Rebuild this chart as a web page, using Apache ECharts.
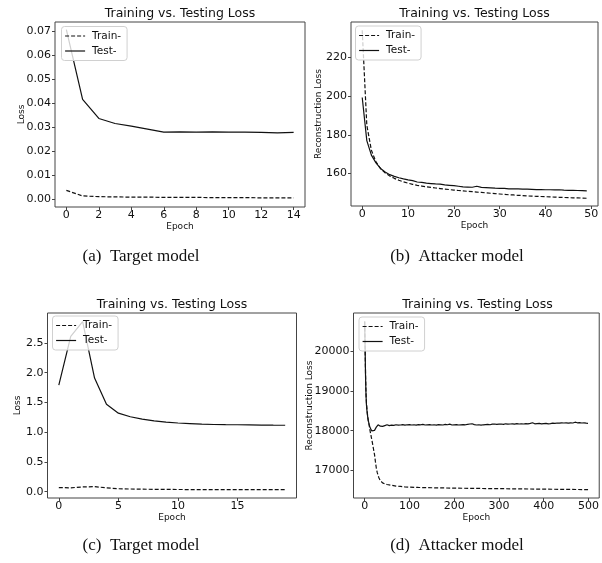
<!DOCTYPE html>
<html>
<head>
<meta charset="utf-8">
<script src="https://cdn.jsdelivr.net/npm/echarts@6/dist/echarts.min.js"></script>
<style>html,body{margin:0;padding:0;background:#fff}#c{width:602px;height:563px}</style>
</head>
<body>
<div id="c"></div>
<script>
// ---------- data ----------
const titleText = 'Training vs. Testing Loss';
const legendNames = ['Train-', 'Test-'];
const captions = ['(a)  Target model', '(b)  Attacker model', '(c)  Target model', '(d)  Attacker model'];

// (a) target model, 15 epochs
const aTrain = [0.0037,0.0014,0.0011,0.0010,0.0009,0.0009,0.0008,0.0008,0.0008,0.0007,0.0007,0.0007,0.0006,0.0006,0.0006];
const aTest  = [0.0705,0.0415,0.0336,0.0315,0.0304,0.0292,0.0279,0.0280,0.0279,0.0280,0.0279,0.0279,0.0278,0.0276,0.0278];
const aXTicks = [0,2,4,6,8,10,12,14];
const aYTicks = [0,0.01,0.02,0.03,0.04,0.05,0.06,0.07];

// (b) attacker model, 50 epochs
const bTrain = [234,185,172,166,162.5,160.3,158.7,157.5,156.5,155.7,155.0,154.4,153.9,153.5,153.1,152.8,152.5,152.2,151.9,151.7,
  151.4,151.2,151.0,150.8,150.6,150.4,150.2,150.0,149.8,149.6,149.4,149.2,149.0,148.9,148.7,148.6,148.4,148.3,148.2,148.1,
  148.0,147.9,147.8,147.7,147.6,147.5,147.4,147.4,147.3,147.2];
const bTest = [199.3,177,169.5,165.5,162.6,160.8,159.4,158.5,157.8,157.2,156.7,156.3,155.6,155.4,155.0,154.8,154.6,154.5,154.1,153.9,
  153.7,153.4,153.1,153.0,152.9,153.4,152.8,152.7,152.6,152.4,152.3,152.3,152.1,152.0,152.0,151.9,151.9,151.8,151.7,151.7,
  151.6,151.6,151.5,151.6,151.4,151.3,151.3,151.2,151.1,151.0];
const bXTicks = [0,10,20,30,40,50];
const bYTicks = [160,180,200,220];

// (c) target model, 20 epochs
const cTrain = [0.070,0.065,0.080,0.085,0.065,0.050,0.045,0.042,0.040,0.038,0.037,0.036,0.036,0.035,0.035,0.035,0.034,0.034,0.034,0.034];
const cTest  = [1.79,2.61,2.86,1.91,1.47,1.32,1.26,1.22,1.19,1.17,1.155,1.145,1.135,1.13,1.127,1.125,1.122,1.12,1.118,1.117];
const cXTicks = [0,5,10,15];
const cYTicks = [0,0.5,1.0,1.5,2.0,2.5];

// (d) attacker model, 500 epochs (sampled epochs)
const dTrainEpochs = [0,1,2,3,4,5,6,7,8,10,12,14,16,18,20,22,24,26,28,30,32,35,38,40,45,50,60,70,80,90,100,120,150,200,250,300,350,400,450,499];
const dTrain = [20756,20050,19400,18950,18700,18560,18440,18340,18260,18140,18000,17880,17770,17650,17520,17400,17220,17060,16950,16870,
  16810,16740,16700,16685,16660,16645,16625,16605,16595,16585,16578,16570,16562,16553,16545,16540,16533,16527,16521,16516];
const dTestEpochs = [0,1,2,3,4,5,6,7,8,10,12,14,16,18,20,22,24,26,28,30,32,35,38,40,45,
  50,55,60,65,70,75,80,85,90,95,100,105,110,115,120,125,130,135,140,145,150,155,160,165,170,175,180,185,190,195,
  200,205,210,215,220,225,230,235,240,245,250,255,260,265,270,275,280,285,290,295,
  300,305,310,315,320,325,330,335,340,345,350,355,360,365,370,375,380,385,390,395,
  400,405,410,415,420,425,430,435,440,445,450,455,460,465,470,475,480,485,490,495,499];
const dTest = [20756,20100,19350,18900,18650,18520,18420,18330,18260,18160,18080,18030,17995,17980,17985,18010,18060,18090,18110,18150,18100,18115,18120,18110,18130,
  18150,18130,18140,18135,18150,18140,18145,18155,18140,18150,18155,18145,18150,18140,18155,18150,18160,18145,18150,18155,18145,18150,18140,18155,18150,18145,18160,18150,18165,18145,
  18150,18155,18145,18150,18155,18150,18160,18170,18175,18155,18145,18150,18140,18150,18155,18160,18150,18165,18170,18160,
  18165,18170,18160,18175,18165,18170,18175,18165,18180,18170,18175,18170,18180,18175,18185,18200,18175,18180,18185,18175,
  18180,18185,18175,18180,18190,18185,18195,18190,18200,18195,18200,18190,18200,18195,18215,18200,18205,18195,18200,18190,18185];
const dXTicks = [0,100,200,300,400,500];
const dYTicks = [17000,18000,19000,20000];

// ---------- chart ----------
const FONT = 'DejaVu Sans';
const INK = '#111';
const pairs = (xs, ys) => ys.map((v, i) => [xs ? xs[i] : i, v]);

const panels = [
  {grid:{left:55, top:22, width:250, height:185}, x:[-0.7,14.7], y:[-0.0032,0.0737], xt:aXTicks, yt:aYTicks, yfmt:v=>v.toFixed(2),
   yname:'Loss', ygap:29, train:pairs(null,aTrain), test:pairs(null,aTest), leg:{left:61.5, top:26.5}},
  {grid:{left:351, top:22, width:247, height:184}, x:[-2.45,51.45], y:[143.2,238.3], xt:bXTicks, yt:bYTicks, yfmt:v=>String(v),
   yname:'Reconstruction Loss', ygap:28, train:pairs(null,bTrain), test:pairs(null,bTest), leg:{left:355.5, top:26}},
  {grid:{left:47.5, top:313, width:249, height:185}, x:[-0.95,19.95], y:[-0.106,3.004], xt:cXTicks, yt:cYTicks, yfmt:v=>v.toFixed(1),
   yname:'Loss', ygap:25, train:pairs(null,cTrain), test:pairs(null,cTest), leg:{left:52.5, top:316}},
  {grid:{left:353.5, top:313, width:248, height:185}, x:[-24.95,523.95], y:[16304,20968], xt:dXTicks, yt:dYTicks, yfmt:v=>String(v),
   yname:'Reconstruction Loss', ygap:39, train:pairs(dTrainEpochs,dTrain), test:pairs(dTestEpochs,dTest), leg:{left:359, top:317}}
];

const option = {
  animation: false,
  backgroundColor: '#fff',
  textStyle: {fontFamily: FONT},
  grid: panels.map(p => Object.assign({show:true, borderColor:'#444', borderWidth:1, backgroundColor:'transparent', containLabel:false}, p.grid)),
  xAxis: panels.map((p, i) => ({
    type:'value', gridIndex:i, min:p.x[0], max:p.x[1],
    name:'Epoch', nameLocation:'middle', nameGap:15, nameMoveOverlap:false,
    nameTextStyle:{fontSize:9, color:INK, fontFamily:FONT},
    axisLine:{show:false, onZero:false}, splitLine:{show:false},
    axisTick:{show:true, inside:false, length:3, lineStyle:{color:'#444'}, customValues:p.xt},
    axisLabel:{fontSize:11, color:INK, margin:3, fontFamily:FONT, customValues:p.xt, formatter:v=>String(v)}
  })),
  yAxis: panels.map((p, i) => ({
    type:'value', gridIndex:i, min:p.y[0], max:p.y[1],
    name:p.yname, nameLocation:'middle', nameGap:p.ygap, nameRotate:90, nameMoveOverlap:false,
    nameTextStyle:{fontSize:9, color:INK, fontFamily:FONT},
    axisLine:{show:false, onZero:false}, splitLine:{show:false},
    axisTick:{show:true, inside:false, length:3, lineStyle:{color:'#444'}, customValues:p.yt},
    axisLabel:{fontSize:11, color:INK, margin:4, fontFamily:FONT, customValues:p.yt, formatter:p.yfmt}
  })),
  legend: panels.map(p => ({
    data: legendNames, orient:'vertical', left:p.leg.left, top:p.leg.top,
    itemWidth:20, itemHeight:10, itemGap:4, padding:[4,6,4,3],
    backgroundColor:'rgba(255,255,255,0.8)', borderColor:'#d0d0d0', borderWidth:1, borderRadius:3,
    textStyle:{fontSize:10.5, color:INK, fontFamily:FONT, padding:[0,0,0,2]},
    itemStyle:{color:'rgba(0,0,0,0)', borderColor:'rgba(0,0,0,0)', borderWidth:0, opacity:0},
    lineStyle:{opacity:1, width:1.2},
    selectedMode:false
  })),
  series: [],
  graphic: []
};

panels.forEach((p, i) => {
  option.series.push({name:'Train-', type:'line', xAxisIndex:i, yAxisIndex:i, data:p.train, symbol:'none', showSymbol:false,
    lineStyle:{color:INK, width:1.2, type:[4,2]}, itemStyle:{color:INK}, z:2});
  option.series.push({name:'Test-', type:'line', xAxisIndex:i, yAxisIndex:i, data:p.test, symbol:'none', showSymbol:false,
    lineStyle:{color:INK, width:1.2, type:'solid'}, itemStyle:{color:INK}, z:2});
  const g = p.grid;
  option.graphic.push({type:'text', x:g.left + g.width/2, y:g.top - 8,
    style:{text:titleText, fontFamily:FONT, fontSize:12.5, fill:INK, align:'center', verticalAlign:'middle'}});
});

const capPos = [[141,257],[457,257],[141,546],[457,546]];
captions.forEach((t, i) => {
  option.graphic.push({type:'text', x:capPos[i][0], y:capPos[i][1],
    style:{text:t, fontFamily:'Liberation Serif', fontSize:17, fill:'#111', align:'center', verticalAlign:'middle'}});
});

const chart = echarts.init(document.getElementById('c'), null, {renderer:'canvas'});
chart.setOption(option);
</script>
</body>
</html>
